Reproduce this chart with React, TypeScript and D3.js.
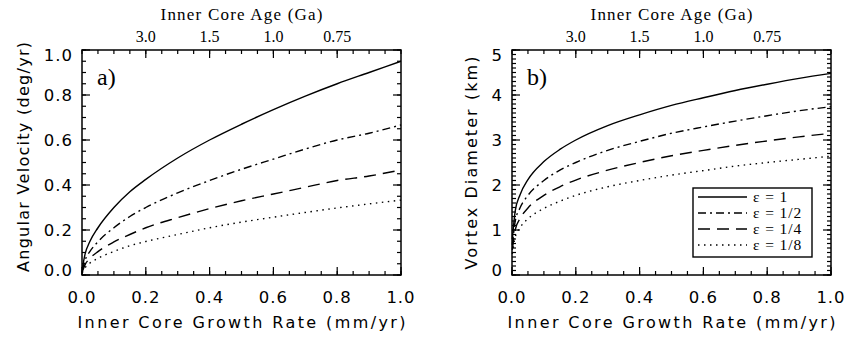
import React from 'react';
import * as d3 from 'd3';

// growth rate samples (mm/yr) and values
const rates = [0.001, 0.01, 0.025, 0.05, 0.1, 0.15, 0.2, 0.3, 0.4, 0.5, 0.6, 0.7, 0.8, 0.9, 1.0];

const velE1 = [0.03, 0.095, 0.15, 0.21, 0.3, 0.37, 0.425, 0.52, 0.6, 0.67, 0.735, 0.795, 0.85, 0.9, 0.95];
const velE2 = [0.02, 0.067, 0.105, 0.148, 0.21, 0.26, 0.3, 0.365, 0.42, 0.47, 0.515, 0.56, 0.6, 0.63, 0.667];
const velE4 = [0.015, 0.047, 0.074, 0.104, 0.147, 0.18, 0.21, 0.255, 0.295, 0.33, 0.36, 0.39, 0.42, 0.44, 0.467];
const velE8 = [0.01, 0.033, 0.053, 0.074, 0.105, 0.13, 0.149, 0.18, 0.21, 0.235, 0.257, 0.278, 0.298, 0.316, 0.333];

const diamE1 = [0.8, 1.42, 1.78, 2.12, 2.52, 2.79, 3.0, 3.32, 3.56, 3.77, 3.94, 4.1, 4.24, 4.37, 4.48];
const diamE2 = [0.67, 1.19, 1.49, 1.77, 2.1, 2.33, 2.5, 2.77, 2.97, 3.15, 3.29, 3.42, 3.54, 3.65, 3.74];
const diamE4 = [0.56, 1.0, 1.25, 1.49, 1.77, 1.96, 2.11, 2.33, 2.5, 2.65, 2.77, 2.88, 2.98, 3.07, 3.15];
const diamE8 = [0.47, 0.84, 1.05, 1.25, 1.48, 1.64, 1.77, 1.96, 2.1, 2.22, 2.32, 2.42, 2.5, 2.57, 2.64];

const epsLabels = ['ε = 1', 'ε = 1/2', 'ε = 1/4', 'ε = 1/8'];
const dashes = ['none', '8,4,2,4', '12,7', '1.5,4.5'];

// top axis: inner core age labels and the growth rates they sit at
const ageLabels = ['3.0', '1.5', '1.0', '0.75'];
const ageRates = [0.2, 0.4, 0.6, 0.8];

const W = 850;
const H = 338;
const top = 50;
const bottom = 275;

const sans = "'DejaVu Sans', sans-serif";
const serif = "'Liberation Serif', 'DejaVu Serif', serif";

type PanelProps = {
  x0: number;
  x1: number;
  yMax: number;
  yStep: number;
  yMinor: number;
  yFmt: (v: number) => string;
  series: number[][];
  yTitle: string;
  yTitleLen: number;
  yTitleX: number;
  yTitleY: number;
  tag: string;
  legend?: boolean;
};

const Panel: React.FC<PanelProps> = ({ x0, x1, yMax, yStep, yMinor, yFmt, series, yTitle, yTitleLen, yTitleX, yTitleY, tag, legend }) => {
  const x = d3.scaleLinear().domain([0, 1]).range([x0, x1]);
  const y = d3.scaleLinear().domain([0, yMax]).range([bottom, top]);

  const line = d3.line<number>()
    .x((_, i) => x(rates[i]))
    .y(d => y(d))
    .curve(d3.curveMonotoneX);

  const xMajor = d3.range(0, 1.0001, 0.2);
  const xMinor = d3.range(0, 1.0001, 0.05);
  const yMajorT = d3.range(0, yMax + 1e-6, yStep);
  const yMinorT = d3.range(0, yMax + 1e-6, yMinor);
  const big = 8;
  const small = 4;

  return (
    <g>
      {/* curves */}
      {series.map((s, i) => (
        <path key={i} d={line(s) || ''} fill="none" stroke="#000" strokeWidth={1.4} strokeDasharray={dashes[i]} />
      ))}

      {/* ticks: bottom, top */}
      {xMinor.map((v, i) => (
        <g key={'xm' + i}>
          <line x1={x(v)} x2={x(v)} y1={bottom} y2={bottom - small} stroke="#000" strokeWidth={1.2} />
          <line x1={x(v)} x2={x(v)} y1={top} y2={top + small} stroke="#000" strokeWidth={1.2} />
        </g>
      ))}
      {xMajor.map((v, i) => (
        <g key={'xM' + i}>
          <line x1={x(v)} x2={x(v)} y1={bottom} y2={bottom - big} stroke="#000" strokeWidth={1.2} />
          <text x={x(v)} y={303} textAnchor="middle" fontFamily={sans} fontSize={16.5} letterSpacing={1}>{v.toFixed(1)}</text>
        </g>
      ))}
      {ageRates.map((r, i) => (
        <g key={'age' + i}>
          <line x1={x(r)} x2={x(r)} y1={top} y2={top + big} stroke="#000" strokeWidth={1.2} />
          <text x={x(r)} y={42} textAnchor="middle" fontFamily={serif} fontSize={16}>{ageLabels[i]}</text>
        </g>
      ))}

      {/* ticks: left, right */}
      {yMinorT.map((v, i) => (
        <g key={'ym' + i}>
          <line x1={x0} x2={x0 + small} y1={y(v)} y2={y(v)} stroke="#000" strokeWidth={1.2} />
          <line x1={x1} x2={x1 - small} y1={y(v)} y2={y(v)} stroke="#000" strokeWidth={1.2} />
        </g>
      ))}
      {yMajorT.map((v, i) => (
        <g key={'yM' + i}>
          <line x1={x0} x2={x0 + big} y1={y(v)} y2={y(v)} stroke="#000" strokeWidth={1.2} />
          <line x1={x1} x2={x1 - big} y1={y(v)} y2={y(v)} stroke="#000" strokeWidth={1.2} />
          <text x={x0 - 9} y={Math.min(Math.max(y(v), top + 5), bottom - 5) + 6} textAnchor="end" fontFamily={sans} fontSize={16.5} letterSpacing={1}>{yFmt(v)}</text>
        </g>
      ))}

      {/* frame */}
      <rect x={x0} y={top} width={x1 - x0} height={bottom - top} fill="none" stroke="#000" strokeWidth={1.5} />

      {/* titles */}
      <text x={(x0 + x1) / 2} y={20} textAnchor="middle" fontFamily={serif} fontSize={17} textLength={162} lengthAdjust="spacing">Inner Core Age (Ga)</text>
      <text x={(x0 + x1) / 2} y={328} textAnchor="middle" fontFamily={sans} fontSize={16} textLength={328} lengthAdjust="spacing">Inner Core Growth Rate (mm/yr)</text>
      <text transform={`translate(${yTitleX},${yTitleY}) rotate(-90)`} textAnchor="middle" fontFamily={sans} fontSize={16} textLength={yTitleLen} lengthAdjust="spacing">{yTitle}</text>
      <text x={x0 + 15} y={85} fontFamily={serif} fontSize={24}>{tag}</text>

      {legend && (
        <g>
          <rect x={693} y={188} width={119} height={69} fill="#fff" stroke="#000" strokeWidth={1.4} />
          {epsLabels.map((lab, i) => (
            <g key={lab}>
              <line x1={698} x2={747} y1={197 + i * 16} y2={197 + i * 16} stroke="#000" strokeWidth={1.4} strokeDasharray={dashes[i]} />
              <text x={753} y={202 + i * 16} fontFamily={serif} fontSize={15.5} letterSpacing={0.9}>{lab}</text>
            </g>
          ))}
        </g>
      )}
    </g>
  );
};

const App: React.FC = () => (
  <svg width={W} height={H} style={{ position: 'fixed', left: 0, top: 0, background: '#fff' }}>
    <rect width={W} height={H} fill="#fff" />
    <Panel
      x0={82} x1={401} yMax={1} yStep={0.2} yMinor={0.05} yFmt={v => v.toFixed(1)}
      series={[velE1, velE2, velE4, velE8]}
      yTitle="Angular Velocity (deg/yr)" yTitleLen={230} yTitleX={29} yTitleY={157} tag="a)"
    />
    <Panel
      x0={512} x1={831} yMax={5} yStep={1} yMinor={0.1} yFmt={v => v.toFixed(0)}
      series={[diamE1, diamE2, diamE4, diamE8]}
      yTitle="Vortex Diameter (km)" yTitleLen={213} yTitleX={477} yTitleY={163} tag="b)" legend
    />
  </svg>
);

export default App;
